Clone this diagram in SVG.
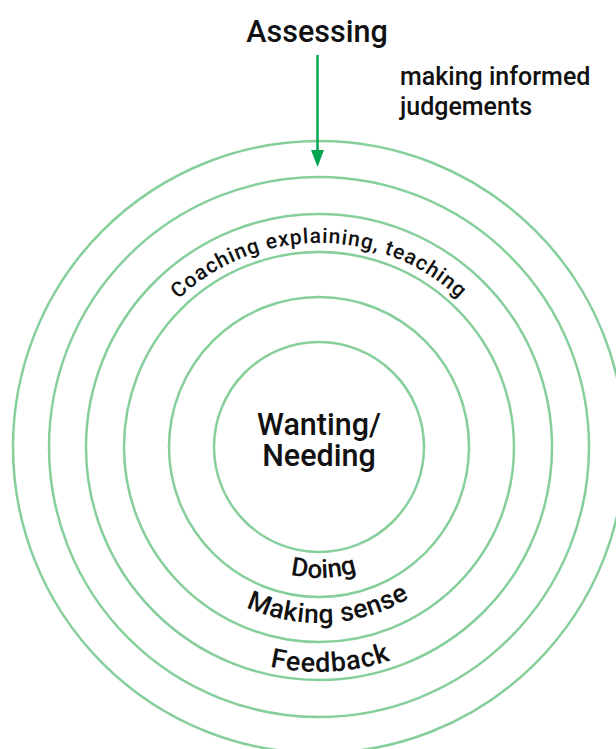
<svg xmlns="http://www.w3.org/2000/svg" width="616" height="749" viewBox="0 0 616 749">
<style>
.ring{fill:none;stroke:#86cf9c;stroke-width:2.5}
.t{font-family:Roboto,"Liberation Sans",sans-serif;font-weight:500;fill:#111}
</style>
<defs>
<path id="pTop" d="M115,447 A204,204 0 0 1 523,447"/>
<path id="pDoing" d="M188,447 A131,131 0 0 0 450,447"/>
<path id="pMaking" d="M143,447 A176,176 0 0 0 495,447"/>
<path id="pFeed" d="M94,447 A225,225 0 0 0 544,447"/>
</defs>
<rect width="616" height="749" fill="#fff"/>
<g id="rings">
<circle class="ring" cx="319" cy="447" r="306"/>
<circle class="ring" cx="319" cy="447" r="270"/>
<circle class="ring" cx="319" cy="447" r="233"/>
<circle class="ring" cx="319" cy="447" r="195"/>
<circle class="ring" cx="319" cy="447" r="150"/>
<circle class="ring" cx="319" cy="447" r="105"/>
</g>
<g id="connectors">
<line x1="317.5" y1="55" x2="317.5" y2="150" stroke="#00a650" stroke-width="2.5"/>
<path d="M311,150 L324,150 L317.5,167 Z" fill="#00a650"/>
</g>
<g id="assessing">
<text class="t" x="317" y="42" font-size="30.5" text-anchor="middle">Assessing</text>
<text class="t" font-size="25"><tspan x="400" y="84.5">making informed</tspan><tspan x="400" y="114.5">judgements</tspan></text>
</g>
<g id="coaching">
<text class="t" font-size="21" letter-spacing="1"><textPath href="#pTop" startOffset="50%" text-anchor="middle">Coaching explaining, teaching</textPath></text>
</g>
<g id="wanting">
<text class="t" font-size="30.5" text-anchor="middle"><tspan x="319" y="435">Wanting/</tspan><tspan x="319" y="466">Needing</tspan></text>
</g>
<g id="doing">
<text class="t" font-size="26"><textPath href="#pDoing" startOffset="51.2%" text-anchor="middle">Doing</textPath></text>
</g>
<g id="making">
<text class="t" font-size="26.5" letter-spacing="0.5"><textPath href="#pMaking" startOffset="51.8%" text-anchor="middle">Making sense</textPath></text>
</g>
<g id="feedback">
<text class="t" font-size="27" letter-spacing="0.8"><textPath href="#pFeed" startOffset="51.7%" text-anchor="middle">Feedback</textPath></text>
</g>
</svg>
